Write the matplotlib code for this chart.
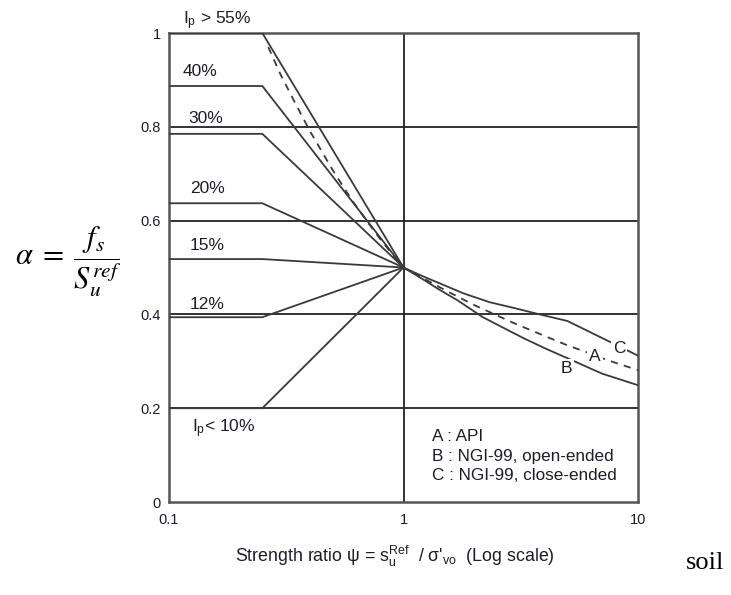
import numpy as np
import matplotlib
matplotlib.use('Agg')
import matplotlib.pyplot as plt

plt.rcParams['font.family'] = ['Liberation Sans', 'DejaVu Sans']
plt.rcParams['mathtext.fontset'] = 'custom'
plt.rcParams['mathtext.rm'] = 'Liberation Sans'
plt.rcParams['mathtext.it'] = 'Liberation Sans:italic'

# plasticity index family: flat up to psi=0.25, then straight to the pivot (1, 0.5)
ip_labels = ['$\\mathrm{I_p}$ > 55%', '40%', '30%', '20%', '15%', '12%', '$\\mathrm{I_p}$< 10%']
ip_alpha = [1.0, 0.887, 0.785, 0.637, 0.518, 0.394, 0.200]
ip_label_pos = [(0.1147, 1.026), (0.1147, 0.919), (0.1205, 0.817), (0.1229, 0.668),
                (0.1229, 0.547), (0.1229, 0.421), (0.1254, 0.157)]
psi_knee = [0.1, 0.25, 1.0]
alpha_pivot = 0.5

# A : API (dashed)
psi_A = [0.265, 0.3, 0.35, 0.4, 0.5, 0.6, 0.7, 0.8, 0.9, 1.0,
         1.5, 2, 3, 4, 5, 6, 7, 8, 10]
alpha_A = [0.97, 0.91, 0.845, 0.79, 0.707, 0.645, 0.598, 0.559, 0.527, 0.5,
           0.452, 0.42, 0.38, 0.354, 0.334, 0.32, 0.307, 0.297, 0.281]
# B : NGI-99 open-ended
psi_B = [1, 1.2, 1.43, 1.7, 2.18, 2.7, 3.23, 4, 5.47, 7, 10]
alpha_B = [0.5, 0.476, 0.452, 0.43, 0.394, 0.37, 0.35, 0.328, 0.298, 0.274, 0.249]
# C : NGI-99 close-ended
psi_C = [1, 1.2, 1.43, 1.8, 2.33, 3, 3.81, 5.0, 10]
alpha_C = [0.5, 0.482, 0.466, 0.445, 0.426, 0.413, 0.40, 0.386, 0.312]

curve_labels = ['A', 'B', 'C']
curve_label_pos = [(6.56, 0.31), (4.93, 0.284), (8.3, 0.327)]

legend_lines = ['A : API', 'B : NGI-99, open-ended', 'C : NGI-99, close-ended']

fig = plt.figure(figsize=(7.31, 5.95), dpi=100)
ax = fig.add_axes([0.2312, 0.1563, 0.6416, 0.7882])

line_col = '#3a3a3a'
for a in ip_alpha:
    ax.plot(psi_knee, [a, a, alpha_pivot], color=line_col, lw=1.3, zorder=3)
for lab, (x, y) in zip(ip_labels, ip_label_pos):
    ax.text(x, y, lab, fontsize=12.5, ha='left', va='center', color='#1c1c2a')

ax.plot(psi_A, alpha_A, color=line_col, lw=1.3, ls=(0, (4, 3.5)), zorder=3)
ax.plot(psi_B, alpha_B, color=line_col, lw=1.3, zorder=3)
ax.plot(psi_C, alpha_C, color=line_col, lw=1.3, zorder=3)
for lab, (x, y) in zip(curve_labels, curve_label_pos):
    ax.text(x, y, lab, fontsize=12.5, ha='center', va='center', color='#1c1c2a', zorder=4,
            bbox=dict(facecolor='white', edgecolor='none', pad=1.5))

for i, t in enumerate(legend_lines):
    ax.text(1.325, 0.140 - i * 0.042, t, fontsize=12.3, ha='left', va='center', color='#1c1c2a')

# grid lines
for g in [0.2, 0.4, 0.6, 0.8]:
    ax.axhline(g, color='#222222', lw=1.3, zorder=2)
ax.axvline(1, color='#222222', lw=1.3, zorder=2)

ax.set_xscale('log')
ax.set_xlim(0.1, 10)
ax.set_ylim(0, 1)
ax.set_xticks([0.1, 1, 10])
ax.set_xticklabels(['0.1', '1', '10'])
ax.set_yticks([0, 0.2, 0.4, 0.6, 0.8, 1])
ax.set_yticklabels(['0', '0.2', '0.4', '0.6', '0.8', '1'])
ax.minorticks_off()
ax.tick_params(length=0, labelsize=10.5, colors='#1c1c2a')
ax.tick_params(axis='x', pad=8)
ax.tick_params(axis='y', pad=6)
for s in ax.spines.values():
    s.set_color('#555555')
    s.set_linewidth(1.8)

fig.text(15 / 731, 1 - 262 / 595, r'$\alpha\;=\;\dfrac{f_s}{S_u^{ref}}$', fontsize=22,
         ha='left', va='center', math_fontfamily='stix')

fig.text(395 / 731, 1 - 556 / 595,
         "Strength ratio ψ = $\\mathrm{s_u^{Ref}}$  / σ'$_{\\mathrm{vo}}$  (Log scale)",
         fontsize=12.8, ha='center', va='center', color='#1c1c2a')
fig.text(686 / 731, 1 - 563 / 595, 'soil', fontsize=19, family='Liberation Serif',
         ha='left', va='center')

fig.savefig('out.png', dpi=100)
